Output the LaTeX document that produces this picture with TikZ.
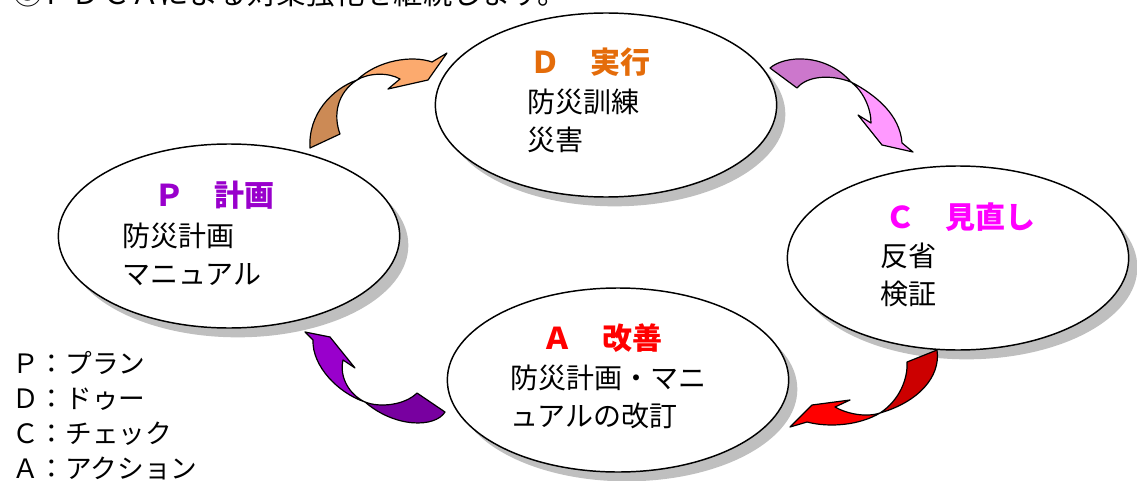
\documentclass[tikz,border=0pt]{standalone}
\usepackage{fontspec}
\setmainfont{Noto Sans CJK JP}
\usetikzlibrary{shapes.geometric}
\usetikzlibrary{shadows}

\definecolor{planpurple}{RGB}{153,0,204}
\definecolor{planpurpledark}{RGB}{120,0,160}
\definecolor{doorange}{RGB}{228,108,10}
\definecolor{dopeach}{RGB}{252,170,110}
\definecolor{dopeachdark}{RGB}{204,138,85}
\definecolor{checkmagenta}{RGB}{255,0,255}
\definecolor{checkpink}{RGB}{255,153,255}
\definecolor{checkpinkdark}{RGB}{204,119,204}
\definecolor{actred}{RGB}{255,0,0}
\definecolor{actreddark}{RGB}{204,0,0}

\begin{document}
\begin{tikzpicture}[x=0.75pt,y=-0.75pt,
  phase/.style={ellipse,draw=black,line width=1.1pt,fill=white,minimum width=256pt,minimum height=138pt,inner sep=0pt,
    drop shadow={shadow xshift=6.5pt,shadow yshift=-7pt,fill=black!25,opacity=1}},
  head/.style={anchor=west,inner sep=0pt,font=\fontsize{22.5}{27}\selectfont\bfseries},
  body/.style={anchor=west,inner sep=0pt,align=left,font=\fontsize{21}{28.5}\selectfont},
  band/.style={draw=black,line width=0.9pt,line join=round}]
  \useasboundingbox (0,0) rectangle (1137,481);
  \node[anchor=base west,inner sep=0pt,font=\fontsize{22}{26}\selectfont] (intro) at (13,5) {③ＰＤＣＡによる対策強化を継続します。};
  % the four phases
  \node[phase] (plan) at (229,236) {};
  \node[phase] (doit) at (606,105) {};
  \node[phase] (check) at (958,258) {};
  \node[phase] (act) at (618,380) {};
  \node[head,text=planpurple] (planhead) at (154,195) {Ｐ　計画};
  \node[body] (plantext) at (122,254) {防災計画\\マニュアル};
  \node[head,text=doorange] (dohead) at (530,62) {Ｄ　実行};
  \node[body] (dotext) at (527,121) {防災訓練\\災害};
  \node[head,text=checkmagenta] (checkhead) at (885,217) {Ｃ　見直し};
  \node[body] (checktext) at (880,275) {反省\\検証};
  \node[head,text=actred] (acthead) at (542,338) {Ａ　改善};
  \node[body] (acttext) at (510,397) {防災計画・マニ\\ュアルの改訂};
  % curved arrows between the phases
  \filldraw[band,fill=dopeachdark] (310,148) -- (340,134) .. controls (333,115) and (337,93) .. (357,80) .. controls (332,89) and (308,114) .. (310,148) -- cycle;
  \filldraw[band,fill=dopeach] (357,80) .. controls (368,73) and (388,72) .. (400,79) -- (388,89) -- (428,80) -- (447,53) -- (432,62) .. controls (412,55) and (378,60) .. (357,80) -- cycle;
  \filldraw[band,fill=checkpinkdark] (770,68) .. controls (785,55) and (826,53) .. (851,82) .. controls (830,74) and (807,76) .. (797,88) -- cycle;
  \filldraw[band,fill=checkpink] (851,82) .. controls (876,95) and (900,115) .. (902,143) -- (913,152) -- (882,145) -- (858,115) -- (871,123) .. controls (871,108) and (863,91) .. (851,82) -- cycle;
  \filldraw[band,fill=actreddark] (937,350) -- (907,362) .. controls (908,378) and (900,400) .. (880,413) .. controls (918,402) and (941,377) .. (937,350) -- cycle;
  \filldraw[band,fill=actred] (880,413) .. controls (865,418) and (845,413) .. (835,407) -- (850,400) -- (812,405) -- (790,427) -- (807,422) .. controls (830,428) and (860,425) .. (880,413) -- cycle;
  \filldraw[band,fill=planpurple] (305,332) -- (330,337) -- (355,368) -- (343,360) .. controls (339,378) and (350,395) .. (365,402) .. controls (338,393) and (312,366) .. (313,340) -- cycle;
  \filldraw[band,fill=planpurpledark] (365,402) .. controls (380,408) and (405,405) .. (417,393) -- (445,412) .. controls (435,428) and (395,428) .. (365,402) -- cycle;
  % key
  \node[anchor=west,inner sep=0pt,align=left,font=\fontsize{20}{26.25}\selectfont] (key) at (12,416) {Ｐ：プラン\\Ｄ：ドゥー\\Ｃ：チェック\\Ａ：アクション};
\end{tikzpicture}
\end{document}
